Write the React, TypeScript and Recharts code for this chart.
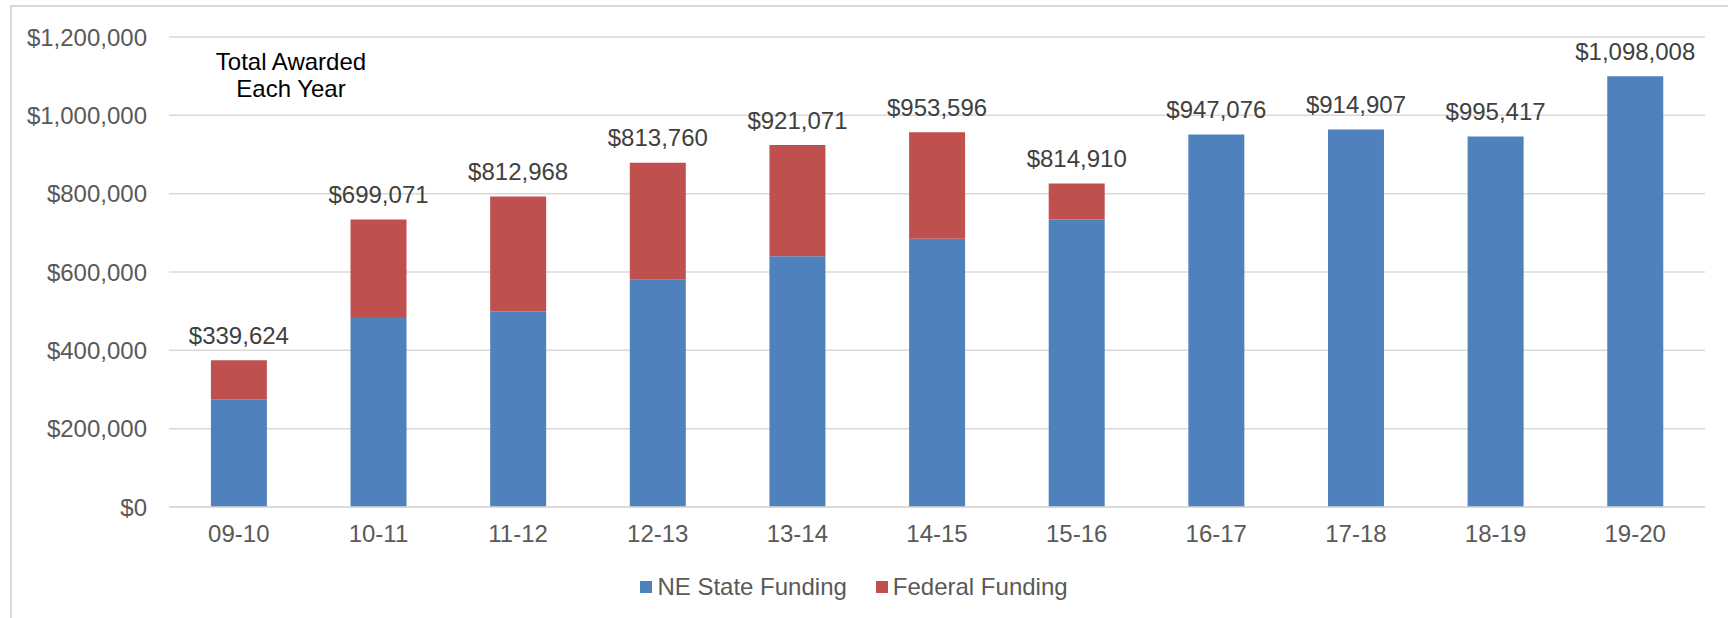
import { BarChart, Bar, XAxis, YAxis, CartesianGrid, Legend, LabelList } from "recharts";

const FONT = "'Liberation Sans', Arial, sans-serif";

const years = ["09-10", "10-11", "11-12", "12-13", "13-14", "14-15", "15-16", "16-17", "17-18", "18-19", "19-20"];
const stateFunding = [275000, 485000, 499000, 580000, 640000, 685000, 734000, 951000, 964000, 946000, 1100000];
const federalFunding = [100000, 249000, 294000, 299000, 284000, 272000, 92000, 0, 0, 0, 0];
const totalLabels = [
  "$339,624",
  "$699,071",
  "$812,968",
  "$813,760",
  "$921,071",
  "$953,596",
  "$814,910",
  "$947,076",
  "$914,907",
  "$995,417",
  "$1,098,008",
];
const yTicks = [0, 200000, 400000, 600000, 800000, 1000000, 1200000];

const data = years.map((year, i) => ({
  year,
  state: stateFunding[i],
  federal: federalFunding[i],
}));

const money = (v: number) => "$" + v.toLocaleString("en-US");

// total label sits on whichever segment is the top of the stack
const makeTotal = (onTop: (i: number) => boolean) => (props: any) => {
  const { x, y, width, index } = props;
  if (!onTop(index)) return null;
  return (
    <text
      x={Number(x) + Number(width) / 2}
      y={Number(y) - 25}
      textAnchor="middle"
      dominantBaseline="central"
      fontSize={24}
      fontFamily={FONT}
      fill="#404040"
    >
      {totalLabels[index]}
    </text>
  );
};

const renderLegend = () => (
  <div
    style={{
      height: 40,
      display: "flex",
      justifyContent: "center",
      alignItems: "center",
      fontFamily: FONT,
      fontSize: 24,
      color: "#595959",
    }}
  >
    <span style={{ display: "inline-block", width: 12, height: 12, background: "#4F81BD", marginRight: 5 }} />
    <span style={{ marginRight: 29 }}>NE State Funding</span>
    <span style={{ display: "inline-block", width: 12, height: 12, background: "#C0504D", marginRight: 5 }} />
    <span>Federal Funding</span>
  </div>
);

export default function App() {
  return (
    <div
      style={{
        position: "absolute",
        left: 0,
        top: 0,
        width: 1728,
        height: 618,
        background: "#fff",
        overflow: "hidden",
      }}
    >
      <div
        style={{
          position: "absolute",
          left: 10,
          top: 5,
          width: 1800,
          height: 700,
          border: "2px solid #d9d9d9",
        }}
      />
      <div
        style={{
          position: "absolute",
          left: 191,
          top: 48,
          width: 200,
          textAlign: "center",
          fontFamily: FONT,
          fontSize: 24,
          lineHeight: "27px",
          color: "#000",
        }}
      >
        Total Awarded
        <br />
        Each Year
      </div>
      <BarChart
        width={1728}
        height={618}
        data={data}
        margin={{ top: 37, right: 23, left: 0, bottom: 41 }}
        barCategoryGap="30%"
        style={{ position: "absolute", left: 0, top: 0 }}
      >
        <CartesianGrid vertical={false} stroke="#d9d9d9" strokeWidth={1.5} />
        <XAxis
          dataKey="year"
          height={30}
          tickLine={false}
          tickMargin={12}
          axisLine={{ stroke: "#d9d9d9", strokeWidth: 1.5 }}
          tick={{ fontSize: 24, fontFamily: FONT, fill: "#595959" }}
        />
        <YAxis
          width={169}
          domain={[0, 1200000]}
          ticks={yTicks}
          tickFormatter={money}
          tickLine={false}
          axisLine={false}
          tickMargin={16}
          tick={{ fontSize: 24, fontFamily: FONT, fill: "#595959" }}
        />
        <Legend
          verticalAlign="bottom"
          content={renderLegend}
          wrapperStyle={{ top: 567, bottom: "auto", left: 0, width: 1708 }}
        />
        <Bar dataKey="state" stackId="a" name="NE State Funding" fill="#4F81BD" isAnimationActive={false}>
          <LabelList dataKey="state" content={makeTotal((i) => !federalFunding[i])} />
        </Bar>
        <Bar dataKey="federal" stackId="a" name="Federal Funding" fill="#C0504D" isAnimationActive={false}>
          <LabelList dataKey="federal" content={makeTotal((i) => federalFunding[i] > 0)} />
        </Bar>
      </BarChart>
    </div>
  );
}
